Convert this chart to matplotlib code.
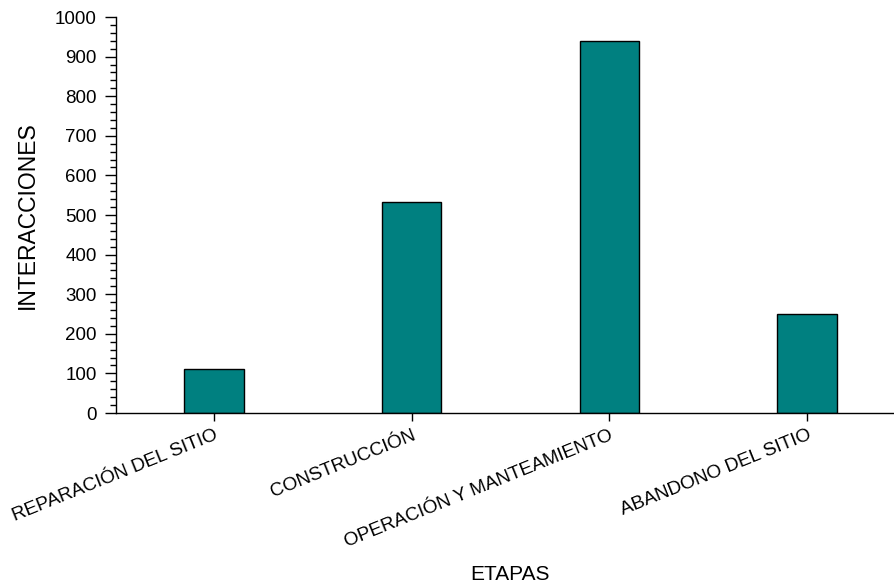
import matplotlib
matplotlib.use("Agg")
import matplotlib.pyplot as plt
from matplotlib.ticker import MultipleLocator

plt.rcParams['font.family'] = ['Liberation Sans', 'DejaVu Sans']

etapas = ["REPARACIÓN DEL SITIO", "CONSTRUCCIÓN", "OPERACIÓN Y MANTEAMIENTO", "ABANDONO DEL SITIO"]
interacciones = [110, 533, 939, 250]

fig = plt.figure(figsize=(8.94, 5.86), dpi=100)
ax = fig.add_axes([116 / 894, 1 - 413 / 586, (893 - 116) / 894, (413 - 17) / 586])

x = list(range(len(etapas)))
ax.bar(x, interacciones, width=0.3, color="#008080", edgecolor="black", linewidth=1.0)

ax.set_xlim(-0.496, 3.435)
ax.set_ylim(0, 1000)
ax.yaxis.set_major_locator(MultipleLocator(100))
ax.yaxis.set_minor_locator(MultipleLocator(20))

ax.spines['top'].set_visible(False)
ax.spines['right'].set_visible(False)
for s in ('left', 'bottom'):
    ax.spines[s].set_linewidth(1.0)

ax.tick_params(axis='y', which='major', length=8, width=1.0, labelsize=13.5, pad=6)
ax.tick_params(axis='y', which='minor', length=4, width=1.0)
ax.tick_params(axis='x', which='major', length=6, width=1.0, labelsize=13.7, pad=4)

ax.set_xticks(x)
ax.set_xticklabels(etapas, rotation=22, ha='right', va='top', rotation_mode='anchor')

w_px, h_px = 893 - 116, 413 - 17
ax.set_ylabel("INTERACCIONES", fontsize=16.5)
ax.yaxis.set_label_coords((27 - 116) / w_px, 0.5, transform=ax.transAxes)
ax.yaxis.label.set_va('center')

ax.set_xlabel("ETAPAS", fontsize=15)
ax.xaxis.set_label_coords((510 - 116) / w_px, -(575 - 413) / h_px, transform=ax.transAxes)
ax.xaxis.label.set_va('center')

fig.savefig("out.png", dpi=100)
